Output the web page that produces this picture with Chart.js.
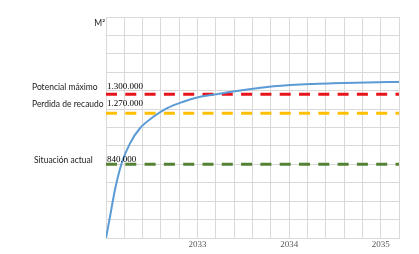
<!DOCTYPE html>
<html lang="es">
<head>
  <meta charset="UTF-8" />
  <title>Proyección M2</title>
  <script src="https://cdn.jsdelivr.net/npm/chart.js"></script>
  <style>
    body { margin: 0; background: #fff; }
    #wrap { width: 419px; height: 254px; }
  </style>
</head>
<body>
  <div id="wrap"><canvas id="chart" width="419" height="254"></canvas></div>
  <script>
    // curve points (x = year, y = grid units)
    const curveX = [2032.0, 2032.044, 2032.098, 2032.171, 2032.262, 2032.371, 2032.517, 2032.663, 2032.844, 2033.027, 2033.209, 2033.37, 2033.76, 2034.12, 2034.48, 2034.85, 2035.2];
    const curveY = [0, 1.17, 2.62, 4.06, 5.14, 5.96, 6.58, 7.04, 7.40, 7.67, 7.81, 7.94, 8.2, 8.33, 8.40, 8.45, 8.47];

    // reference levels
    const levelNames = ['Potencial máximo', 'Perdida de recaudo', 'Situación actual'];
    const levelTexts = ['1.300.000', '1.270.000', '840.000'];
    const levelY = [7.8, 6.78, 4.0];
    const levelColors = ['#E8141B', '#FFC000', '#548235'];

    const yearTicks = [2033, 2034, 2035];
    const xMin = 2032, xMax = 2035.2;

    const datasets = levelY.map((v, i) => ({
      data: [{ x: xMin, y: v }, { x: xMax, y: v }],
      borderColor: levelColors[i],
      borderWidth: 3,
      borderDash: [11, 8.3],
      pointRadius: 0,
      order: 2
    }));
    datasets.push({
      data: curveX.map((x, i) => ({ x: x, y: curveY[i] })),
      borderColor: '#5B9BD5',
      borderWidth: 2,
      pointRadius: 0,
      cubicInterpolationMode: 'monotone',
      order: 0
    });

    // text labels beside the dashed lines
    const labelPlugin = {
      id: 'labels',
      afterDraw(chart) {
        const ctx = chart.ctx;
        const y = chart.scales.y;
        const area = chart.chartArea;
        const nameOffsets = [-7, -9, -4];
        const valueOffsets = [-8, -9, -5];
        ctx.save();
        ctx.textBaseline = 'middle';
        levelNames.forEach((name, i) => {
          const py = y.getPixelForValue(levelY[i]);
          ctx.font = '8.5px Lato, "Liberation Sans", sans-serif';
          ctx.fillStyle = '#1a1a1a';
          ctx.textAlign = 'left';
          ctx.fillText(name, i === 2 ? 34 : 32, py + nameOffsets[i]);
          ctx.font = '9px "Liberation Serif", "Times New Roman", serif';
          ctx.fillStyle = '#000';
          ctx.fillText(levelTexts[i], area.left + 1, py + valueOffsets[i]);
        });
        ctx.font = '8.5px Lato, "Liberation Sans", sans-serif';
        ctx.fillStyle = '#1a1a1a';
        ctx.textAlign = 'right';
        ctx.fillText('M²', area.left - 1, area.top + 6);
        ctx.restore();
      }
    };

    new Chart('chart', {
      type: 'line',
      data: { datasets: datasets },
      plugins: [labelPlugin],
      options: {
        responsive: false,
        animation: false,
        layout: { padding: { left: 106, right: 20, top: 17, bottom: 0 } },
        plugins: { legend: { display: false }, tooltip: { enabled: false } },
        scales: {
          x: {
            type: 'linear',
            min: xMin,
            max: xMax,
            afterBuildTicks(scale) {
              const t = [];
              for (let i = 0; i <= 16; i++) t.push({ value: xMin + i * 0.2 });
              scale.ticks = t;
            },
            afterFit(scale) { scale.height = 16; },
            ticks: {
              autoSkip: false,
              maxRotation: 0,
              padding: 1,
              color: '#595959',
              font: { family: '"Liberation Serif", "Times New Roman", serif', size: 9 },
              callback(v) {
                const r = Math.round(v * 10) / 10;
                return yearTicks.includes(r) ? String(r) : '';
              }
            },
            grid: { color: '#d9d9d9', drawTicks: false },
            border: { color: '#d9d9d9' }
          },
          y: {
            min: 0,
            max: 12,
            ticks: { display: false, stepSize: 1 },
            afterFit(scale) { scale.width = 0; },
            grid: { color: '#d9d9d9', drawTicks: false },
            border: { color: '#d9d9d9' }
          }
        }
      }
    });
  </script>
</body>
</html>
